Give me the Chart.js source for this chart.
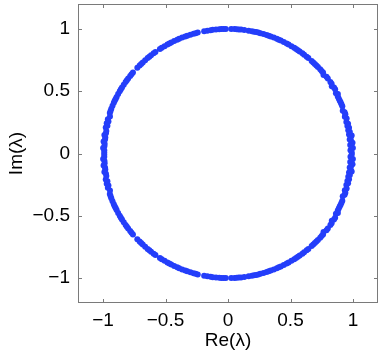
<!DOCTYPE html>
<html>
<head>
<meta charset="utf-8">
<script src="https://cdn.jsdelivr.net/npm/chart.js@4.4.0/dist/chart.umd.min.js"></script>
<style>
  html, body { margin: 0; padding: 0; background: #fff; }
  #wrap { width: 382px; height: 352px; }
</style>
</head>
<body>
<div id="wrap"><canvas id="eig"></canvas></div>
<script>
// Eigenvalues in the upper half plane (argument in degrees, modulus)
const argDeg = [
  0.5, 1.5, 2.5, 3.2, 4, 5, 5.8, 6.6, 7.5, 8.3, 9, 10, 11, 12, 13, 14, 15, 16.5, 17.5, 18.5,
  19.5, 20.5, 22.5, 23.5, 24.5, 25.5, 26.5, 27.5, 28.5, 29.3, 31, 32, 33, 34, 35, 37, 38, 39.5, 40.5, 41.5,
  42.5, 44, 45, 46, 47, 48, 50, 51, 52.5, 53.5, 55, 56, 57, 58, 59.5, 61, 62, 63.5, 65, 66,
  67, 68.5, 70, 71, 72, 73.5, 75, 76, 77, 78, 79, 80.5, 82.5, 84, 85, 86, 87, 88.5, 91, 92,
  93, 94, 95.5, 97, 98, 99.5, 101, 104, 105, 106, 107.5, 109, 110, 111.5, 113, 114, 115.5, 117, 118, 119,
  120.5, 122, 123, 125.5, 126.5, 128, 129, 130, 131.5, 133, 134, 135, 136.5, 139.5, 140.5, 141.5, 143, 144, 145, 146.5,
  148, 149, 150, 151.5, 153, 154, 155, 156, 157.5, 159, 160, 161, 162.5, 164, 165, 166, 167, 168, 169.5, 170.5,
  171.5, 172.5, 173.5, 174.5, 175.5, 176.5, 177.5, 178.5, 179.5
];
const modulus = [
  0.99, 0.98, 1.0, 0.99, 0.98, 1.0, 0.99, 0.98, 0.99, 1.0, 0.98, 0.99, 0.98, 0.99, 0.98, 0.99, 0.98, 0.99, 0.98, 0.99,
  0.99, 0.98, 0.99, 0.99, 0.99, 0.99, 0.99, 0.99, 1.0, 0.99, 1.0, 1.0, 0.99, 1.0, 1.0, 1.0, 1.0, 0.99, 1.0, 1.0,
  1.0, 1.0, 1.0, 1.0, 1.0, 1.0, 1.0, 1.0, 1.0, 1.0, 1.0, 1.0, 1.0, 1.0, 1.0, 1.0, 1.0, 1.0, 1.0, 1.0,
  1.0, 1.0, 1.0, 1.0, 1.0, 1.0, 1.0, 1.0, 1.0, 1.0, 1.0, 1.0, 1.0, 1.0, 1.0, 1.0, 1.0, 1.0, 1.0, 1.0,
  1.0, 1.0, 1.0, 1.0, 1.0, 1.0, 1.0, 1.0, 1.0, 1.0, 1.0, 1.0, 1.0, 1.0, 1.0, 1.0, 1.0, 1.0, 1.0, 1.0,
  1.0, 1.0, 1.0, 1.0, 1.0, 1.0, 1.0, 1.0, 1.0, 1.0, 1.0, 1.0, 1.0, 1.0, 1.0, 1.0, 1.0, 1.0, 1.0, 1.0,
  1.0, 1.0, 1.0, 1.0, 1.0, 1.0, 1.0, 1.0, 1.0, 1.0, 1.0, 1.0, 0.99, 1.0, 0.99, 1.0, 0.99, 1.0, 0.99, 0.99,
  1.0, 0.99, 0.99, 1.0, 0.99, 0.99, 1.0, 0.99, 0.99
];

const xTicks = [-1, -0.5, 0, 0.5, 1];
const yTicks = [-1, -0.5, 0, 0.5, 1];
const axisMin = -1.2;
const axisMax = 1.2;
const xTitle = 'Re(λ)';
const yTitle = 'Im(λ)';

// upper half + complex conjugates
const points = [];
argDeg.forEach((a, i) => {
  const r = modulus[i];
  const t = a * Math.PI / 180;
  points.push({ x: r * Math.cos(t), y: r * Math.sin(t) });
  points.push({ x: r * Math.cos(t), y: -r * Math.sin(t) });
});

const fmt = v => String(v).replace('-', '\u2212');
const FONT = 'Liberation Sans, Arial, Helvetica, sans-serif';

// box frame and inward ticks like matlab
const boxPlugin = {
  id: 'box',
  afterDraw(chart) {
    const { ctx, chartArea: a, scales } = chart;
    ctx.save();
    ctx.strokeStyle = '#7a7a7a';
    ctx.lineWidth = 1;
    ctx.strokeRect(Math.round(a.left) + 0.5, Math.round(a.top) + 0.5,
      Math.round(a.right - a.left) - 1, Math.round(a.bottom - a.top) - 1);
    const len = 4;
    ctx.beginPath();
    xTicks.forEach(v => {
      const px = Math.round(scales.x.getPixelForValue(v)) + 0.5;
      ctx.moveTo(px, a.bottom); ctx.lineTo(px, a.bottom - len);
      ctx.moveTo(px, a.top); ctx.lineTo(px, a.top + len);
    });
    yTicks.forEach(v => {
      const py = Math.round(scales.y.getPixelForValue(v)) + 0.5;
      ctx.moveTo(a.left, py); ctx.lineTo(a.left + len, py);
      ctx.moveTo(a.right, py); ctx.lineTo(a.right - len, py);
    });
    ctx.stroke();
    ctx.restore();
  }
};

new Chart(document.getElementById('eig'), {
  type: 'scatter',
  data: {
    datasets: [{
      data: points,
      backgroundColor: 'rgb(36,62,250)',
      borderColor: 'rgb(36,62,250)',
      borderWidth: 0,
      pointRadius: 3
    }]
  },
  options: {
    responsive: true,
    maintainAspectRatio: false,
    animation: false,
    layout: { padding: { top: 1, right: 4, left: 0, bottom: 0 } },
    plugins: { legend: { display: false }, tooltip: { enabled: false } },
    scales: {
      x: {
        type: 'linear', min: axisMin, max: axisMax,
        afterBuildTicks: s => { s.ticks = xTicks.map(v => ({ value: v })); },
        afterFit: s => { s.height = 49; s.paddingLeft = 0; s.paddingRight = 0; },
        grid: { display: false, drawTicks: false },
        border: { display: false },
        ticks: { color: '#000', font: { family: FONT, size: 19 }, padding: 6, maxRotation: 0, callback: v => fmt(v) },
        title: { display: true, text: xTitle, color: '#000', font: { family: FONT, size: 19 }, padding: { top: 0, bottom: 0 } }
      },
      y: {
        type: 'linear', min: axisMin, max: axisMax,
        afterBuildTicks: s => { s.ticks = yTicks.map(v => ({ value: v })); },
        afterFit: s => { s.width = 78; s.paddingTop = 0; s.paddingBottom = 0; },
        grid: { display: false, drawTicks: false },
        border: { display: false },
        ticks: { color: '#000', font: { family: FONT, size: 19 }, padding: 8, callback: v => fmt(v) },
        title: { display: true, text: yTitle, color: '#000', font: { family: FONT, size: 19 }, padding: { top: 5, bottom: 2 } }
      }
    }
  },
  plugins: [boxPlugin]
});
</script>
</body>
</html>
